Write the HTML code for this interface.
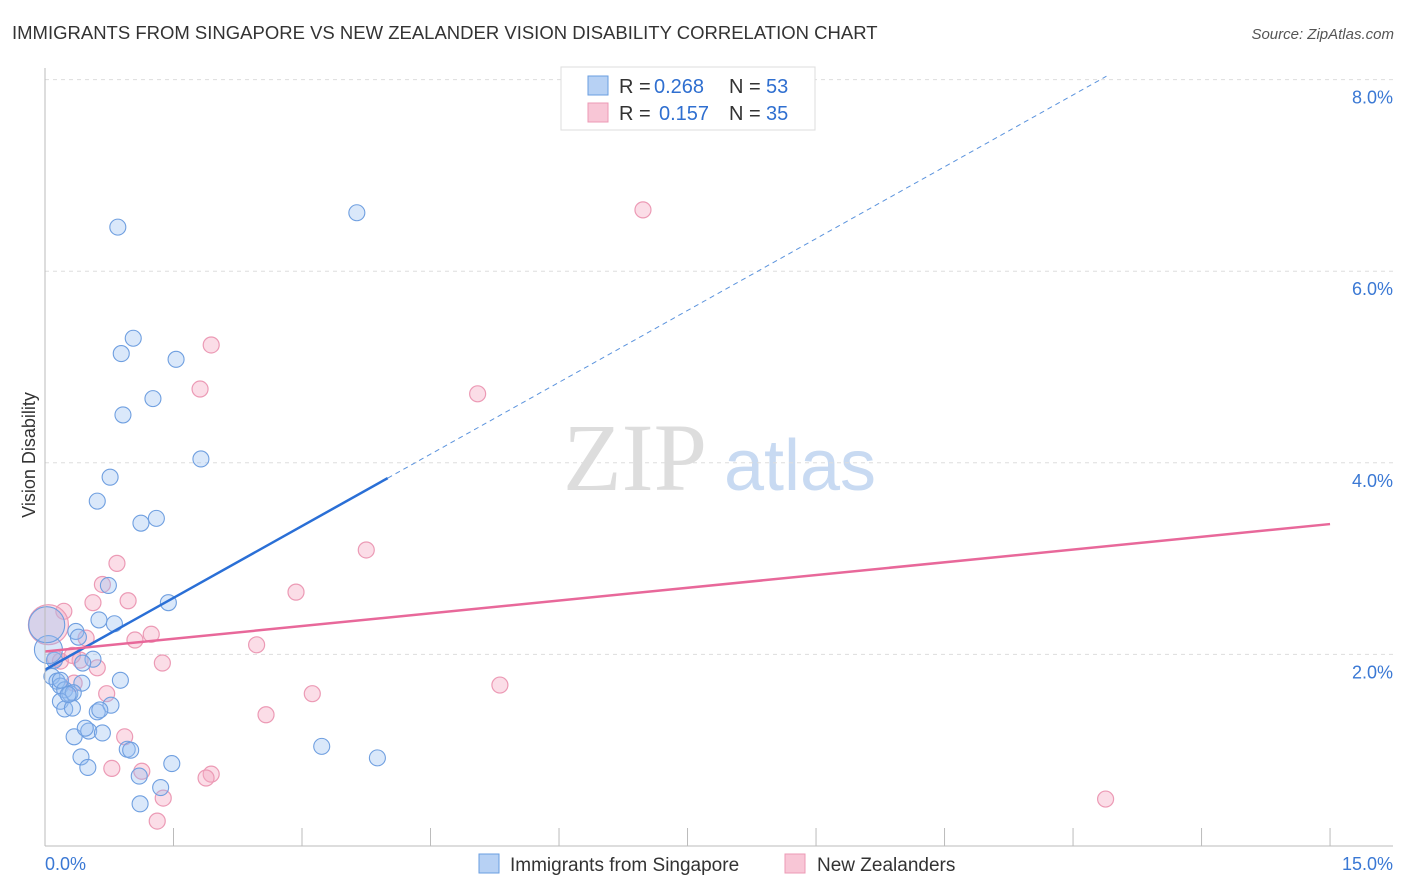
<!DOCTYPE html>
<html><head><meta charset="utf-8"><style>
body{margin:0;background:#fff;font-family:"Liberation Sans",sans-serif}
svg{display:block}
</style></head><body>
<svg id="c" width="1406" height="892" xmlns="http://www.w3.org/2000/svg">
<text x="12" y="39" font-size="18.5" fill="#333">IMMIGRANTS FROM SINGAPORE VS NEW ZEALANDER VISION DISABILITY CORRELATION CHART</text>
<text x="1394" y="39" font-size="15" fill="#555" font-style="italic" text-anchor="end">Source: ZipAtlas.com</text>
<text x="35" y="455" font-size="18" fill="#333" transform="rotate(-90 35 455)" text-anchor="middle">Vision Disability</text>
<text x="635" y="490" font-size="96" fill="#ddd" font-family="Liberation Serif,serif" text-anchor="middle">ZIP</text>
<text x="800" y="490" font-size="72" fill="#c8daf2" text-anchor="middle">atlas</text>
<g id="grid"></g><g id="pts"></g><g id="lines"></g>
<line x1="45" y1="68" x2="45" y2="846" stroke="#bbb"/>
<line x1="45" y1="846" x2="1393" y2="846" stroke="#bbb"/>
<text x="45" y="870" font-size="18" fill="#3a78d4">0.0%</text>
<text x="1393" y="870" font-size="18" fill="#3a78d4" text-anchor="end">15.0%</text>
<g>
<rect x="561" y="67" width="254" height="63" fill="#fff" stroke="#ddd"/>
<rect x="588" y="76" width="20" height="19" fill="#b7d1f4" stroke="#6a9ee0"/>
<rect x="588" y="103" width="20" height="19" fill="#f8c6d6" stroke="#ec9ab5"/>
<text x="619" y="93" font-size="20" fill="#333">R =</text>
<text x="654" y="93" font-size="20" fill="#2f6fd0">0.268</text>
<text x="729" y="93" font-size="20" fill="#333">N =</text>
<text x="766" y="93" font-size="20" fill="#2f6fd0">53</text>
<text x="619" y="120" font-size="20" fill="#333">R =</text>
<text x="659" y="120" font-size="20" fill="#2f6fd0">0.157</text>
<text x="729" y="120" font-size="20" fill="#333">N =</text>
<text x="766" y="120" font-size="20" fill="#2f6fd0">35</text>
</g>
<g>
<rect x="479" y="854" width="20" height="19" fill="#b7d1f4" stroke="#6a9ee0"/>
<text x="510" y="871" font-size="19" fill="#333">Immigrants from Singapore</text>
<rect x="785" y="854" width="20" height="19" fill="#f8c6d6" stroke="#ec9ab5"/>
<text x="817" y="871" font-size="19" fill="#333">New Zealanders</text>
</g>
</svg>
<script>
const yTicks=[2,4,6,8];
const xTicks=[0,1.5,3,4.5,6,7.5,9,10.5,12,13.5,15];
const blueX=[0.85,3.64,1.03,0.89,1.53,1.26,0.91,1.82,0.76,0.61,1.30,1.12,0.74,1.44,0.63,0.81,0.36,0.39,0.56,0.44,0.88,0.08,0.14,0.18,0.23,0.29,0.43,0.33,0.18,0.23,0.32,0.77,0.61,0.51,0.67,0.34,0.42,0.50,0.96,1.00,1.48,1.10,1.35,1.11,3.23,3.88,0.11,0.47,0.64,0.18,0.04,0.02,0.27];
const blueY=[6.46,6.61,5.30,5.14,5.08,4.67,4.50,4.04,3.85,3.60,3.42,3.37,2.72,2.54,2.36,2.32,2.24,2.18,1.95,1.91,1.73,1.77,1.72,1.67,1.63,1.59,1.70,1.60,1.51,1.43,1.44,1.47,1.40,1.20,1.18,1.14,0.93,0.82,1.01,1.00,0.86,0.73,0.61,0.44,1.04,0.92,1.94,1.23,1.42,1.73,2.05,2.31,1.58];
const blueBig=[50,51];
const pinkX=[6.98,1.94,1.81,5.05,3.75,0.84,0.67,2.93,0.97,0.56,0.22,1.24,1.05,0.48,2.47,1.37,0.12,0.61,0.34,0.72,3.12,5.31,2.58,0.93,0.78,1.13,1.94,1.88,1.38,1.31,12.38,0.41,0.18,0.32,0.04];
const pinkY=[6.64,5.23,4.77,4.72,3.09,2.95,2.73,2.65,2.56,2.54,2.45,2.21,2.15,2.17,2.10,1.91,1.96,1.86,1.70,1.59,1.59,1.68,1.37,1.14,0.81,0.78,0.75,0.71,0.50,0.26,0.49,1.94,1.93,1.99,2.31];
const pinkBig=[34];
const blueTrend=[1.84,0.50];
const pinkTrend=[2.03,0.0887];
const sx=v=>45+v*85.67, sy=v=>846-v*95.8;
const NS="http://www.w3.org/2000/svg";
function mk(t,a,p){const e=document.createElementNS(NS,t);for(const k in a)e.setAttribute(k,a[k]);p.appendChild(e);return e;}
const grid=document.getElementById('grid');
yTicks.forEach(v=>{
 const l=mk('line',{x1:45,x2:1393,y1:sy(v),y2:sy(v),stroke:'#ddd','stroke-dasharray':'4,4'},grid);
 
 
 const t=mk('text',{x:1393,y:sy(v)+24,'font-size':18,fill:'#3a78d4','text-anchor':'end'},grid);
 t.textContent=v.toFixed(1)+'%';
 
 
});
xTicks.forEach(v=>{
 const l=mk('line',{x1:sx(v),x2:sx(v),y1:828,y2:846,stroke:'#bbb'},grid);
 
 
});
const pts=document.getElementById('pts');
pinkX.forEach((x,i)=>{
 const big=pinkBig.includes(i);
 const c=mk('circle',{cx:sx(x),cy:sy(pinkY[i]),r:big?20:8,fill:'rgba(244,170,196,0.4)',stroke:'#ec9ab5','stroke-width':1.2},pts);
 
 
});
blueX.forEach((x,i)=>{
 const big=blueBig.includes(i);
 const r=big?(i===50?14:18):8;
 const c=mk('circle',{cx:sx(x),cy:sy(blueY[i]),r:r,fill:'rgba(150,190,240,0.35)',stroke:'#6f9fe0','stroke-width':1.1},pts);
 
 
});
const lines=document.getElementById('lines');
const bEnd=4.0, bDash=12.39;
let l1=mk('line',{x1:sx(0),y1:sy(blueTrend[0]),x2:sx(bEnd),y2:sy(blueTrend[0]+blueTrend[1]*bEnd),stroke:'#2a6fd6','stroke-width':2.5},lines);


let l2=mk('line',{x1:sx(bEnd),y1:sy(blueTrend[0]+blueTrend[1]*bEnd),x2:sx(bDash),y2:sy(blueTrend[0]+blueTrend[1]*bDash),stroke:'#5b93dd','stroke-width':1,'stroke-dasharray':'5,4'},lines);


let l3=mk('line',{x1:sx(0),y1:sy(pinkTrend[0]),x2:sx(15),y2:sy(pinkTrend[0]+pinkTrend[1]*15),stroke:'#e8689a','stroke-width':2.5},lines);


</script>
</body></html>
